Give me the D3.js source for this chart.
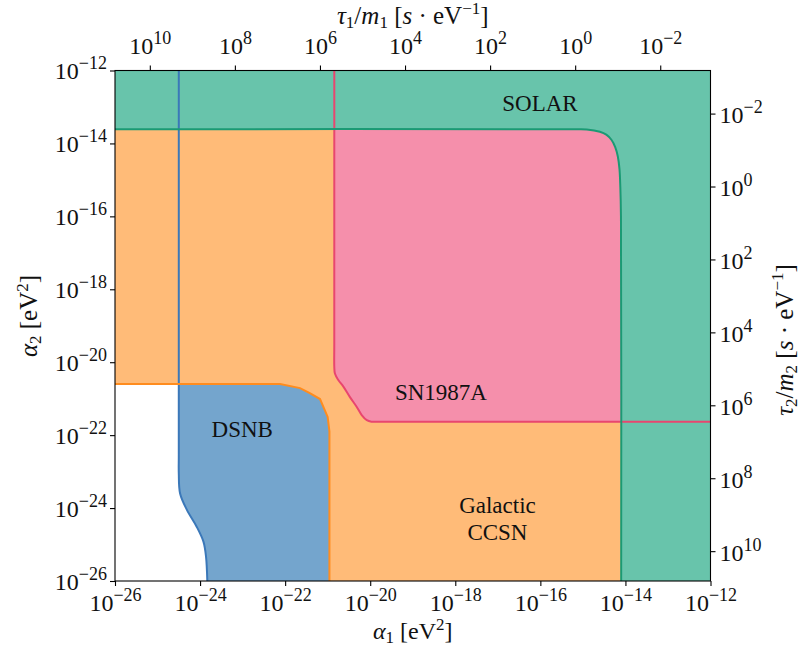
<!DOCTYPE html>
<html>
<head>
<meta charset="utf-8">
<script src="https://cdn.jsdelivr.net/npm/d3@7/dist/d3.min.js"></script>
<style>
  html, body { margin: 0; padding: 0; background: #fff; }
  svg { display: block; }
  text { font-family: "Liberation Serif", "DejaVu Serif", serif; fill: #111; }
</style>
</head>
<body>
<svg id="chart" width="802" height="650"></svg>
<script>
// ---------------- data ----------------
const HBAR = 6.582e-16; // eV*s  (tau/m = hbar/alpha)
const axisDomain = [1e-26, 1e-12];
const bottomTickExps = [-26, -24, -22, -20, -18, -16, -14, -12];
const leftTickExps   = [-26, -24, -22, -20, -18, -16, -14, -12];
const topTickExps    = [10, 8, 6, 4, 2, 0, -2];
const rightTickExps  = [-2, 0, 2, 4, 6, 8, 10];

// boundaries (alpha1, alpha2)
const solarA1 = [1e-26, 6e-16, 1.23e-15, 2.51e-15, 3.55e-15, 4.68e-15, 5.75e-15, 6.61e-15, 7.24e-15, 7.59e-15, 7.85e-15, 7.94e-15];
const solarA2 = [2.45e-14, 2.45e-14, 2.42e-14, 2.09e-14, 1.74e-14, 1.26e-14, 7.94e-15, 4.47e-15, 2.0e-15, 6.31e-16, 1e-16, 1e-26];

const ccsnA1 = [1e-26, 7.59e-23, 2.24e-22, 3.80e-22, 6.61e-22, 1e-21, 1.10e-21, 1.10e-21];
const ccsnA2 = [2.51e-21, 2.51e-21, 1.95e-21, 1.41e-21, 9.77e-22, 3.16e-22, 1.26e-22, 1e-26];

const snA1 = [1.43e-21, 1.43e-21, 1.43e-21, 1.48e-21, 1.78e-21, 2.34e-21, 3.31e-21, 4.79e-21, 6.31e-21, 8.32e-21, 1.07e-20, 2e-20, 1e-12];
const snA2 = [1e-12, 3e-20, 7.59e-21, 4.90e-21, 3.24e-21, 2.14e-21, 1.12e-21, 6.03e-22, 3.55e-22, 2.57e-22, 2.34e-22, 2.34e-22, 2.34e-22];

const dsnbA1 = [3.16e-25, 3.16e-25, 3.16e-25, 3.39e-25, 4.90e-25, 8.32e-25, 1.20e-24, 1.38e-24, 1.48e-24];
const dsnbA2 = [1e-12, 3e-23, 8.91e-24, 2.51e-24, 8.91e-25, 3.09e-25, 1.20e-25, 4.68e-26, 1e-26];

const labelTexts = ["SOLAR", "SN1987A", "DSNB", "Galactic", "CCSN"];
const labelA1    = [9.8e-17, 4.6e-19, 9.8e-24, 9.8e-18, 9.8e-18];
const labelA2    = [7.8e-14, 9.1e-22, 9.1e-23, 7.2e-25, 1.3e-25];

// ---------------- layout ----------------
const L = 115, R = 710.5, T = 70.5, B = 581;
const svg = d3.select("#chart");

const x = d3.scaleLog().domain(axisDomain).range([L, R]);
const y = d3.scaleLog().domain(axisDomain).range([B, T]);
const xTop = d3.scaleLog().domain([HBAR / axisDomain[0], HBAR / axisDomain[1]]).range([L, R]);
const yRight = d3.scaleLog().domain([HBAR / axisDomain[0], HBAR / axisDomain[1]]).range([B, T]);

svg.append("defs").append("clipPath").attr("id", "clip")
  .append("rect").attr("x", L).attr("y", T).attr("width", R - L).attr("height", B - T);

const plot = svg.append("g").attr("clip-path", "url(#clip)");

const zip = (a, b) => a.map((v, i) => [x(v), y(b[i])]);
const smooth = d3.line().curve(d3.curveCatmullRom.alpha(0.5));
const straight = d3.line();

const regions = [
  { a1: dsnbA1, a2: dsnbA2, corners: [[1e-12, 1e-26], [1e-12, 1e-12]], fill: "#74a5cd", stroke: "#3b78b9", curve: smooth },
  { a1: ccsnA1, a2: ccsnA2, corners: [[1e-12, 1e-26], [1e-12, 1e-12], [1e-26, 1e-12]], fill: "#ffbb78", stroke: "#ff8c1e", curve: straight },
  { a1: snA1,   a2: snA2,   corners: [[1e-12, 1e-12]], fill: "#f58fab", stroke: "#e8466f", curve: smooth },
  { a1: solarA1, a2: solarA2, corners: [[1e-12, 1e-26], [1e-12, 1e-12], [1e-26, 1e-12]], fill: "#68c4ab", stroke: "#1b9a74", curve: smooth }
];

regions.forEach(r => {
  const pts = zip(r.a1, r.a2);
  let d = r.curve(pts);
  r.corners.forEach(c => { d += "L" + x(c[0]) + "," + y(c[1]); });
  d += "Z";
  plot.append("path").attr("d", d).attr("fill", r.fill).attr("stroke", "none");
});
regions.forEach(r => {
  plot.append("path").attr("d", r.curve(zip(r.a1, r.a2)))
    .attr("fill", "none").attr("stroke", r.stroke).attr("stroke-width", 2);
});

// region labels
labelTexts.forEach((t, i) => {
  svg.append("text").attr("x", x(labelA1[i])).attr("y", y(labelA2[i]))
    .attr("text-anchor", "middle").attr("font-size", 23).text(t);
});

// frame
svg.append("rect").attr("x", L).attr("y", T).attr("width", R - L).attr("height", B - T)
  .attr("fill", "none").attr("stroke", "#000").attr("stroke-width", 1.1);

// ---------------- axes ----------------
function powLabel(sel, exp) {
  sel.append("tspan").text("10");
  sel.append("tspan").attr("font-size", 18).attr("dy", -10)
    .text(exp < 0 ? "\u2212" + Math.abs(exp) : String(exp));
}

function styleAxis(g) {
  g.select(".domain").remove();
  g.selectAll(".tick line").attr("stroke", "#000").attr("stroke-width", 1.1);
  g.selectAll(".tick text").remove();
}

const TICKFS = 24;
const gB = svg.append("g").attr("transform", `translate(0,${B})`)
  .call(d3.axisBottom(x).tickValues(bottomTickExps.map(e => Math.pow(10, e))).tickSize(5).tickFormat(""));
styleAxis(gB);
gB.selectAll(".tick").each(function (d, i) {
  const t = d3.select(this).append("text").attr("y", 30).attr("text-anchor", "middle").attr("font-size", TICKFS);
  powLabel(t, bottomTickExps[i]);
});

const gL = svg.append("g").attr("transform", `translate(${L},0)`)
  .call(d3.axisLeft(y).tickValues(leftTickExps.map(e => Math.pow(10, e))).tickSize(5).tickFormat(""));
styleAxis(gL);
gL.selectAll(".tick").each(function (d, i) {
  const t = d3.select(this).append("text").attr("x", -8).attr("y", 8).attr("text-anchor", "end").attr("font-size", TICKFS);
  powLabel(t, leftTickExps[i]);
});

const gT = svg.append("g").attr("transform", `translate(0,${T})`)
  .call(d3.axisTop(xTop).tickValues(topTickExps.map(e => Math.pow(10, e))).tickSize(5).tickFormat(""));
styleAxis(gT);
gT.selectAll(".tick").each(function (d, i) {
  const t = d3.select(this).append("text").attr("y", -17).attr("text-anchor", "middle").attr("font-size", TICKFS);
  powLabel(t, topTickExps[i]);
});

const gR = svg.append("g").attr("transform", `translate(${R},0)`)
  .call(d3.axisRight(yRight).tickValues(rightTickExps.map(e => Math.pow(10, e))).tickSize(5).tickFormat(""));
styleAxis(gR);
gR.selectAll(".tick").each(function (d, i) {
  const t = d3.select(this).append("text").attr("x", 9).attr("y", 9).attr("text-anchor", "start").attr("font-size", TICKFS);
  powLabel(t, rightTickExps[i]);
});

// ---------------- titles ----------------
function alphaTitle(t, idx) {
  t.append("tspan").attr("font-style", "italic").text("\u03B1");
  t.append("tspan").attr("font-size", 17).attr("dy", 4).text(idx);
  t.append("tspan").attr("dy", -4).text(" [eV");
  t.append("tspan").attr("font-size", 17).attr("dy", -9).text("2");
  t.append("tspan").attr("dy", 9).text("]");
}
function tauTitle(t, idx) {
  t.append("tspan").attr("font-style", "italic").text("\u03C4");
  t.append("tspan").attr("font-size", 17).attr("dy", 4).text(idx);
  t.append("tspan").attr("dy", -4).text("/");
  t.append("tspan").attr("font-style", "italic").text("m");
  t.append("tspan").attr("font-size", 17).attr("dy", 4).text(idx);
  t.append("tspan").attr("dy", -4).text(" [");
  t.append("tspan").attr("font-style", "italic").text("s");
  t.append("tspan").text(" \u00B7 eV");
  t.append("tspan").attr("font-size", 17).attr("dy", -10).text("\u22121");
  t.append("tspan").attr("dy", 10).text("]");
}

alphaTitle(svg.append("text").attr("x", (L + R) / 2).attr("y", 639).attr("text-anchor", "middle").attr("font-size", 24), "1");
alphaTitle(svg.append("text").attr("transform", `translate(37,316) rotate(-90)`).attr("text-anchor", "middle").attr("font-size", 25), "2");
tauTitle(svg.append("text").attr("x", (L + R) / 2).attr("y", 24).attr("text-anchor", "middle").attr("font-size", 25), "1");
tauTitle(svg.append("text").attr("transform", `translate(793,340) rotate(-90)`).attr("text-anchor", "middle").attr("font-size", 25), "2");
</script>
</body>
</html>
